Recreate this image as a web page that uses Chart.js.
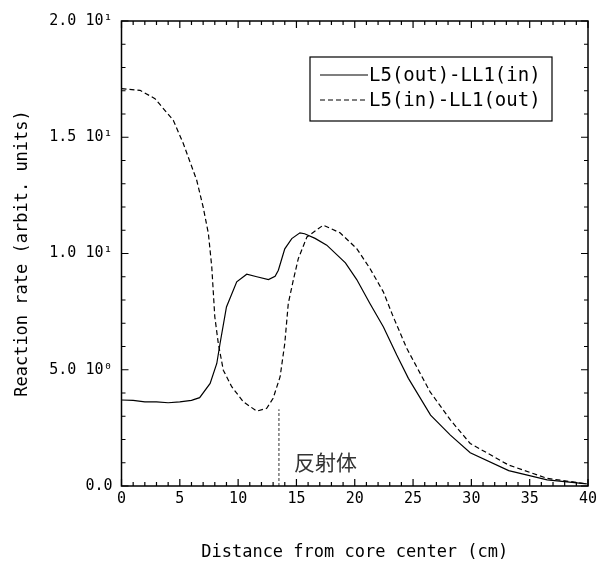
<!DOCTYPE html>
<html>
<head>
<meta charset="utf-8">
<script src="https://cdn.jsdelivr.net/npm/chart.js@4"></script>
<style>
  html, body { margin: 0; padding: 0; background: #fff; }
  #wrap { width: 597px; height: 569px; }
</style>
</head>
<body>
<div id="wrap"><canvas id="rateChart" width="597" height="569"></canvas></div>
<script>
// L5(out)-LL1(in), solid
const solidX = [0, 1, 2, 3, 4, 5, 6, 6.7, 7.6, 8.17, 8.45, 9.0, 9.88, 10.74, 11.6, 12.6, 13.17, 13.45, 14.0, 14.6, 15.3, 15.7, 16.6, 17.6, 19.2, 20.17, 21.3, 22.45, 23.6, 24.6, 26.5, 28.2, 29.9, 33.2, 36.5, 39.9];
const solidY = [3.70, 3.68, 3.62, 3.62, 3.58, 3.62, 3.68, 3.80, 4.41, 5.27, 6.13, 7.7, 8.78, 9.11, 9.0, 8.88, 9.02, 9.28, 10.2, 10.64, 10.89, 10.85, 10.65, 10.36, 9.6, 8.88, 7.85, 6.85, 5.63, 4.63, 3.05, 2.19, 1.43, 0.66, 0.26, 0.09];

// L5(in)-LL1(out), dashed
const dashedX = [0, 1.59, 2.87, 4.44, 5.3, 6.45, 7.0, 7.45, 7.74, 8.0, 8.3, 8.73, 9.45, 10.45, 11.6, 12.45, 13.0, 13.6, 14.0, 14.3, 14.73, 15.16, 15.9, 17.3, 18.74, 20.17, 21.3, 22.45, 23.3, 24.46, 26.46, 28.2, 29.9, 33.2, 36.5, 39.9];
const dashedY = [17.09, 17.02, 16.66, 15.73, 14.73, 13.15, 12.0, 10.86, 9.42, 7.28, 6.13, 4.98, 4.27, 3.62, 3.22, 3.34, 3.77, 4.7, 6.13, 7.85, 8.85, 9.78, 10.71, 11.22, 10.89, 10.21, 9.36, 8.35, 7.28, 5.92, 4.05, 2.84, 1.83, 0.9, 0.33, 0.09];

// reflector boundary marker
const boundaryX = [13.5, 13.5];
const boundaryY = [0, 3.3];
const boundaryText = "反射体";

const seriesNames = ["L5(out)-LL1(in)", "L5(in)-LL1(out)"];
const xTickValues = [0, 5, 10, 15, 20, 25, 30, 35, 40];
const yTickValues = [0, 5, 10, 15, 20];
const yTickLabels = ["0.0", "5.0 10⁰", "1.0 10¹", "1.5 10¹", "2.0 10¹"];

const toPoints = (xs, ys) => xs.map((x, i) => ({ x: x, y: ys[i] }));
const mono = "'DejaVu Sans Mono', 'Liberation Mono', monospace";

// inward ticks on all four sides plus the frame
const frameTicks = {
  id: "frameTicks",
  afterDraw(chart) {
    const { ctx, chartArea: a, scales: { x, y } } = chart;
    ctx.save();
    ctx.strokeStyle = "#000";
    ctx.lineWidth = 1.5;
    ctx.strokeRect(a.left, a.top, a.right - a.left, a.bottom - a.top);
    ctx.lineWidth = 1.2;
    ctx.beginPath();
    for (let v = 0; v <= 40; v++) {
      const px = x.getPixelForValue(v);
      const len = v % 5 === 0 ? 7 : 4;
      ctx.moveTo(px, a.bottom); ctx.lineTo(px, a.bottom - len);
      ctx.moveTo(px, a.top); ctx.lineTo(px, a.top + len);
    }
    for (let v = 0; v <= 20; v++) {
      const py = y.getPixelForValue(v);
      const len = v % 5 === 0 ? 7 : 4;
      ctx.moveTo(a.left, py); ctx.lineTo(a.left + len, py);
      ctx.moveTo(a.right, py); ctx.lineTo(a.right - len, py);
    }
    ctx.stroke();

    // reflector label
    ctx.fillStyle = "#333";
    ctx.font = "21px 'Noto Sans CJK JP'";
    ctx.textBaseline = "middle";
    ctx.textAlign = "left";
    ctx.fillText(boundaryText, x.getPixelForValue(14.8), y.getPixelForValue(1.05));

    // legend box
    const bw = 242, bh = 64;
    const bx = a.right - 36 - bw, by = a.top + 36;
    ctx.lineWidth = 1.2;
    ctx.strokeRect(bx, by, bw, bh);
    ctx.font = "19px " + mono;
    ctx.fillStyle = "#000";
    chart.data.datasets.slice(0, 2).forEach((ds, i) => {
      const ly = by + 18 + i * 25;
      ctx.setLineDash(ds.borderDash || []);
      ctx.beginPath();
      ctx.moveTo(bx + 10, ly);
      ctx.lineTo(bx + 58, ly);
      ctx.stroke();
      ctx.setLineDash([]);
      ctx.fillText(ds.label, bx + 59, ly + 1);
    });
    ctx.restore();
  }
};

new Chart(document.getElementById("rateChart").getContext("2d"), {
  type: "line",
  data: {
    datasets: [
      {
        label: seriesNames[0],
        data: toPoints(solidX, solidY),
        borderColor: "#000",
        borderWidth: 1.2,
        pointRadius: 0,
        tension: 0,
      },
      {
        label: seriesNames[1],
        data: toPoints(dashedX, dashedY),
        borderColor: "#000",
        borderWidth: 1.2,
        borderDash: [5, 3],
        pointRadius: 0,
        tension: 0,
      },
      {
        label: "boundary",
        data: toPoints(boundaryX, boundaryY),
        borderColor: "#333",
        borderWidth: 1,
        borderDash: [3, 2],
        pointRadius: 0,
      },
    ],
  },
  options: {
    responsive: false,
    animation: false,
    layout: { padding: { top: 21, right: 9, left: 0, bottom: 0 } },
    plugins: { legend: { display: false }, tooltip: { enabled: false } },
    scales: {
      x: {
        type: "linear",
        min: 0,
        max: 40,
        grid: { display: false, drawTicks: false },
        border: { display: false },
        afterBuildTicks: (s) => { s.ticks = xTickValues.map((v) => ({ value: v })); },
        afterFit: (s) => { s.height = 83; s.paddingLeft = 0; s.paddingRight = 0; },
        ticks: {
          color: "#000",
          padding: 4,
          maxRotation: 0,
          font: { family: mono, size: 15 },
        },
        title: {
          display: true,
          text: "Distance from core center (cm)",
          color: "#000",
          font: { family: mono, size: 17 },
          padding: { top: 0, bottom: 6 },
        },
      },
      y: {
        type: "linear",
        min: 0,
        max: 20,
        grid: { display: false, drawTicks: false },
        border: { display: false },
        afterBuildTicks: (s) => { s.ticks = yTickValues.map((v) => ({ value: v })); },
        afterFit: (s) => { s.width = 121.5; s.paddingTop = 0; s.paddingBottom = 0; },
        ticks: {
          color: "#000",
          padding: 9,
          font: { family: mono, size: 15 },
          callback: (v) => yTickLabels[yTickValues.indexOf(v)],
        },
        title: {
          display: true,
          text: "Reaction rate (arbit. units)",
          color: "#000",
          font: { family: mono, size: 17 },
          padding: { top: 12, bottom: 0 },
        },
      },
    },
  },
  plugins: [frameTicks],
});
</script>
</body>
</html>
